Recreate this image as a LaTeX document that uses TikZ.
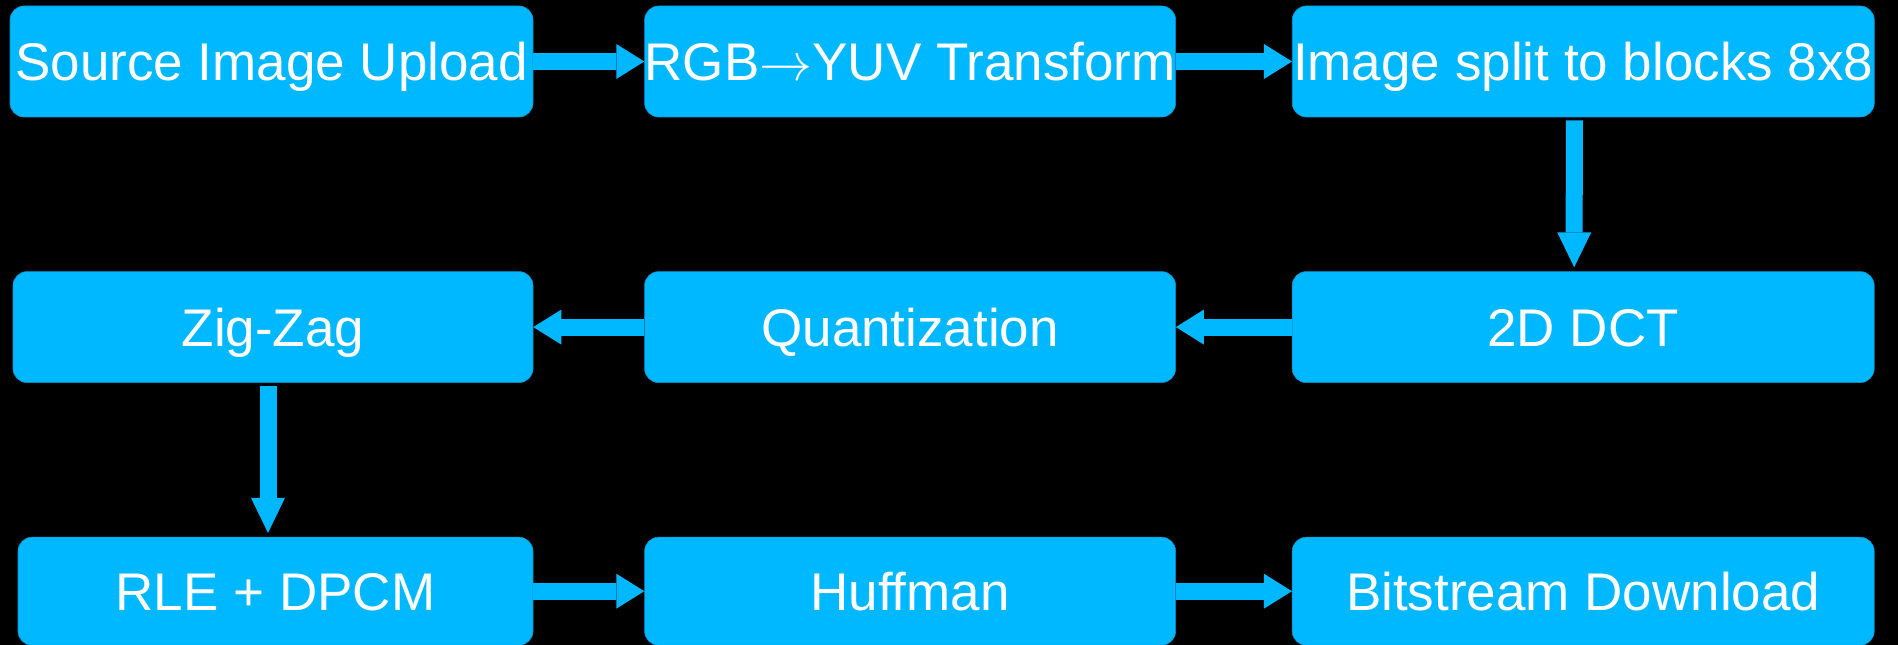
\RequirePackage{fix-cm}
\documentclass[tikz,border=0pt]{standalone}
\usepackage{fontspec}
\setmainfont{Liberation Sans}
\usetikzlibrary{positioning, arrows.meta}
\definecolor{boxblue}{HTML}{00B8FF}
\tikzstyle{stage} = [rectangle, rounded corners=14pt, inner sep=0pt, minimum height=111pt, text height=38pt, text depth=0pt, text centered, text=white, fill=boxblue, draw=boxblue!80!black, line width=0.6pt, font=\fontsize{53}{60}\selectfont]
\tikzstyle{arrow} = [draw=boxblue, line width=17pt, -{Triangle[width=35pt, length=28pt, line width=0pt]}]
\tikzstyle{downarrow} = [draw=boxblue, line width=17pt, -{Triangle[width=34pt, length=35pt, line width=0pt]}, shorten <=3pt, shorten >=4pt]

\begin{document}
\begin{tikzpicture}
\fill[black] (0,0) rectangle (1898pt,645pt);
\useasboundingbox (0,0) rectangle (1898pt,645pt);

\node (src) [stage, minimum width=523pt] at (271.5pt,583.5pt) {Source Image Upload};
\node (rgb) [stage, minimum width=531pt, right=111pt of src] {RGB$\rightarrow$YUV Transform};
\node (split) [stage, minimum width=582pt, right=116pt of rgb] {Image split to blocks 8x8};
\node (zz) [stage, minimum width=520pt, below=154pt of src.south east, anchor=north east] {Zig-Zag};
\node (quant) [stage, minimum width=531pt, right=111pt of zz] {Quantization};
\node (dct) [stage, minimum width=582pt, right=116pt of quant] {2D DCT};
\node (rle) [stage, minimum width=515pt, minimum height=108pt, below=154pt of zz.south east, anchor=north east] {RLE + DPCM};
\node (huff) [stage, minimum width=531pt, minimum height=108pt, right=111pt of rle] {Huffman};
\node (bits) [stage, minimum width=582pt, minimum height=108pt, right=116pt of huff] {Bitstream Download};

\draw [arrow] (src) -- (rgb);
\draw [arrow] (rgb) -- (split);
\draw [downarrow] ([xshift=-9pt]split.south) -- ([xshift=-9pt]dct.north);
\draw [arrow] (dct) -- (quant);
\draw [arrow] (quant) -- (zz);
\draw [downarrow] ([xshift=-5pt]zz.south) -- ([xshift=-5pt]zz.south |- rle.north);
\draw [arrow] (rle) -- (huff);
\draw [arrow] (huff) -- (bits);
\end{tikzpicture}
\end{document}
